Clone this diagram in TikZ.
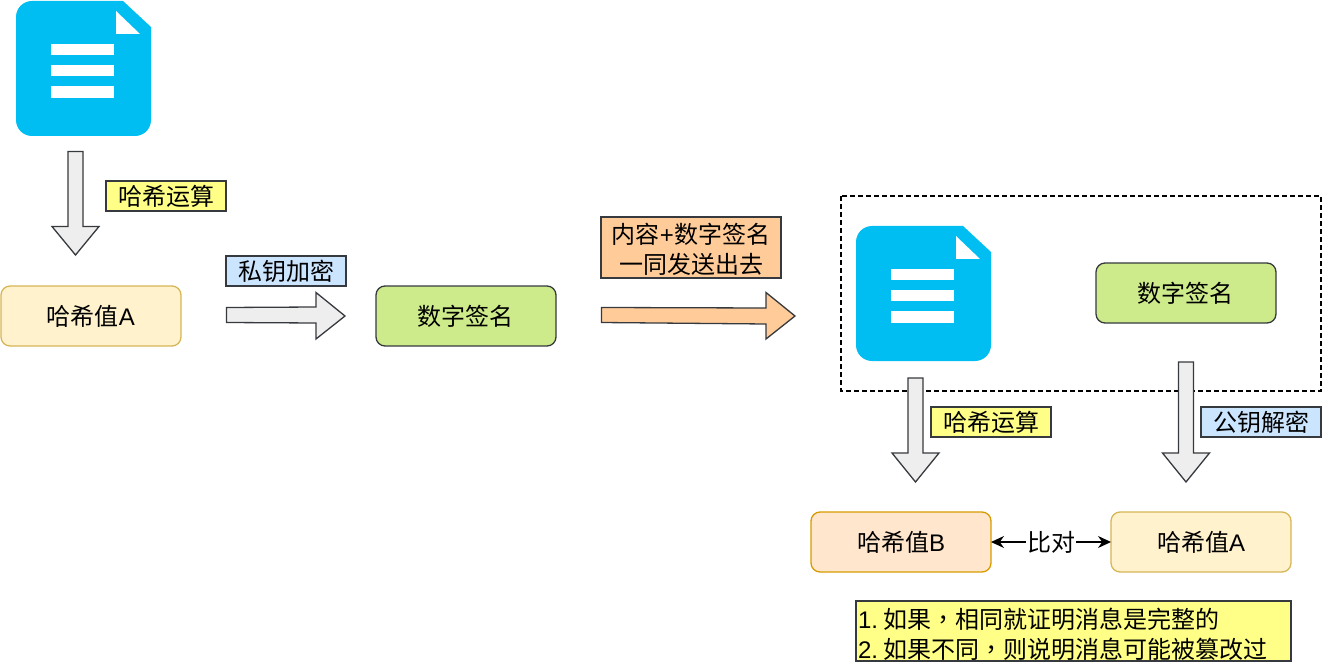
\documentclass[tikz,border=0pt]{standalone}
\usepackage{fontspec}
\usetikzlibrary{arrows.meta}
\setmainfont{Liberation Sans}
\newfontfamily\cjk{Noto Sans CJK SC}
\newfontfamily\cjkpunct{Noto Sans CJK TC}
\definecolor{edgegray}{HTML}{36393D}
\definecolor{docblue}{HTML}{00BEF2}
\definecolor{hashfill}{HTML}{FFF2CC}
\definecolor{hashedge}{HTML}{D6B656}
\definecolor{hashbfill}{HTML}{FFE6CC}
\definecolor{hashbedge}{HTML}{D79B00}
\definecolor{signfill}{HTML}{CDEB8B}
\definecolor{yellowfill}{HTML}{FFFF88}
\definecolor{bluefill}{HTML}{CCE5FF}
\definecolor{orangefill}{HTML}{FFCC99}
\definecolor{arrowfill}{HTML}{EEEEEE}
\tikzset{
  txt/.style={font=\fontsize{24}{30}\selectfont, inner sep=0pt, outer sep=0pt, align=center},
  roundbox/.style={txt, rectangle, rounded corners=9pt, minimum width=180pt, minimum height=60pt, line width=1.3pt},
  hashbox/.style={roundbox, draw=hashedge, fill=hashfill},
  hashbbox/.style={roundbox, draw=hashbedge, fill=hashbfill},
  signbox/.style={roundbox, draw=edgegray, fill=signfill},
  tagbox/.style={txt, rectangle, draw=edgegray, line width=1.3pt, minimum width=120pt, minimum height=30pt},
  blockarrow/.style={draw=edgegray, line width=1.3pt, fill=arrowfill, line join=miter},
  docbody/.style={fill=docblue},
  docmark/.style={fill=white},
}
\newcommand{\docicon}[2]{%
  \begin{scope}[shift={(#1,#2)}]
    \fill[docbody] (107,0) [rounded corners=16pt] -- (0,0) -- (0,135) -- (135,135) [sharp corners] -- (135,26) -- cycle;
    \fill[docmark] (100,10) -- (100,33) -- (124,33) -- cycle;
    \fill[docmark] (35,43) rectangle (98,54);
    \fill[docmark] (35,64) rectangle (98,75);
    \fill[docmark] (35,85) rectangle (98,97);
  \end{scope}}
\newcommand{\downarrowshape}[4]{% centre x, top y, head y, tip y
  \draw[blockarrow] ({#1-7.5},#2) -- ({#1+7.5},#2) -- ({#1+7.5},#3) -- ({#1+23.5},#3) -- (#1,#4) -- ({#1-23.5},#3) -- ({#1-7.5},#3) -- cycle;}
\begin{document}
\begin{tikzpicture}[x=1pt,y=-1pt]
\useasboundingbox (0,0) rectangle (1323,663);
% dashed group
\draw[line width=1.2pt, black, dash pattern=on 5pt off 3pt] (841,196) rectangle (1321,391);
% documents
\docicon{16}{1}
\docicon{856}{226}
% block arrows
\downarrowshape{75.5}{151.5}{226.5}{255}
\draw[blockarrow] (226.5,307.5) -- (316,307) -- (316,292.5) -- (345,316) -- (316,339) -- (316,323) -- (226.5,322.5) -- cycle;
\draw[blockarrow, fill=orangefill] (601.5,307.5) -- (766,308) -- (766,292.5) -- (795,316) -- (766,339) -- (766,324) -- (601.5,322.5) -- cycle;
\downarrowshape{915.5}{378}{453}{482}
\downarrowshape{1186}{362}{453}{482}
% boxes
\node[hashbox] (hashA) at (91,316) {{\cjk 哈希值}A};
\node[signbox] (signL) at (466,316) {\hspace*{-1.5pt}\cjk 数字签名};
\node[signbox] (signR) at (1186,293) {\hspace*{-1.5pt}\cjk 数字签名};
\node[hashbbox] (hashB) at (901,542) {{\cjk 哈希值}B};
\node[hashbox] (hashA2) at (1201,542) {{\cjk 哈希值}A};
% tags
\node[tagbox, fill=yellowfill] (tagHash1) at (166,196) {\cjk 哈希运算};
\node[tagbox, fill=bluefill] (tagPriv) at (286,271) {\cjk 私钥加密};
\node[tagbox, fill=orangefill, minimum width=180pt, minimum height=61pt] (tagSend) at (691,247.5) {\raisebox{-2pt}[\height][\depth]{\parbox{176pt}{\centering {\cjk 内容}+{\cjk 数字签名}\\{\cjk 一同发送出去}}}};
\node[tagbox, fill=yellowfill] (tagHash2) at (991,422) {\cjk 哈希运算};
\node[tagbox, fill=bluefill] (tagPub) at (1261,422) {\cjk 公钥解密};
\node[tagbox, fill=yellowfill, minimum width=435pt, minimum height=60pt] (note) at (1073.5,631) {\raisebox{-3pt}[\height][\depth]{\parbox{431pt}{1.\hspace{5pt}{\cjk 如果{\cjkpunct ，}相同就证明消息是完整的}\\2.\hspace{5pt}{\cjk 如果不同{\cjkpunct ，}则说明消息可能被篡改过}}}};
% compare connector
\draw[{Stealth[length=13pt,width=12pt]}-{Stealth[length=13pt,width=12pt]}, line width=1.2pt, black] (hashB.east) -- node[txt, fill=white, inner xsep=1pt, inner ysep=1pt] (cmp) {\cjk 比对} (hashA2.west);
\end{tikzpicture}
\end{document}
